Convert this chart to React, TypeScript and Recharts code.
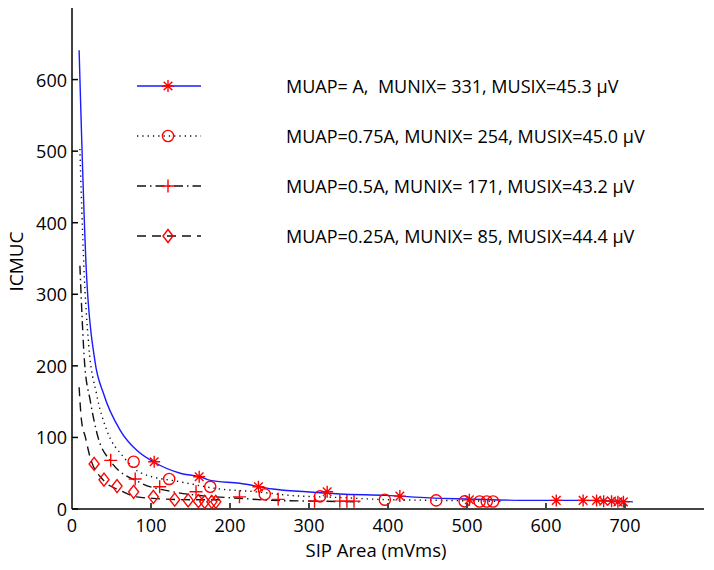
import { ComposedChart, Line, Scatter, XAxis, YAxis, Legend } from "recharts";

const font = '"Open Sans", "Noto Sans", sans-serif';
const red = "#ff0000";
const blue = "#1a1aff";
const ink = "#111";

// axis ticks
const xTicks = [0, 100, 200, 300, 400, 500, 600, 700];
const yTicks = [0, 100, 200, 300, 400, 500, 600];

// fitted curves (SIP area -> ICMUC)
const fitAx = [9, 18, 29, 40, 61, 82, 103, 137, 162, 175, 212, 254, 297, 339, 398, 453, 500, 579, 650, 710];
const fitAy = [641, 336, 207, 161, 110, 82, 66, 50, 45, 40, 36, 28, 24, 21, 19, 15.5, 14, 12, 12, 10];
const fitBx = [10, 15, 21, 31, 44, 65, 88, 137, 187, 234, 276, 339, 400, 470, 545];
const fitBy = [503, 340, 231, 161, 110, 73, 50, 38, 28, 24, 19, 16, 13, 12, 10.5];
const fitCx = [10, 16, 23, 33, 48, 86, 128, 170, 212, 254, 310, 366];
const fitCy = [340, 203, 152, 100, 68, 37, 24, 18, 15, 12, 11, 10];
const fitDx = [9, 12, 17, 23, 40, 61, 82, 107, 150, 195];
const fitDy = [170, 124, 100, 72, 40, 26, 17, 14.5, 13, 13];

// measured points (red markers)
const ptsAx = [104, 161, 236, 323, 415, 503, 613, 647, 664, 673, 683, 691, 698];
const ptsAy = [66, 45, 31, 24, 18, 13, 12, 12, 12, 11, 11, 10, 10];
const ptsBx = [78, 123, 175, 244, 314, 396, 461, 497, 516, 525, 533];
const ptsBy = [66, 42, 31, 20.5, 17.7, 13, 12, 10.7, 10.5, 10.5, 10.5];
const ptsCx = [49, 80, 111, 157, 212, 261, 307, 339, 348, 357];
const ptsCy = [68, 42, 31, 24, 17, 13.5, 11, 11, 11, 11];
const ptsDx = [28, 40.5, 57, 78, 103, 130, 147, 160, 168, 177, 182];
const ptsDy = [63, 41, 32, 24, 17, 13, 12, 11, 10, 10, 10];

const legendLabels = [
  "MUAP= A,  MUNIX= 331, MUSIX=45.3 µV",
  "MUAP=0.75A, MUNIX= 254, MUSIX=45.0 µV",
  "MUAP=0.5A, MUNIX= 171, MUSIX=43.2 µV",
  "MUAP=0.25A, MUNIX= 85, MUSIX=44.4 µV",
];

const zip = (xs: number[], ys: number[]) => xs.map((x, i) => ({ x, y: ys[i] }));

type Mark = (cx: number, cy: number) => React.ReactElement;

const asterisk: Mark = (cx, cy) => {
  const r = 6, d = 4.3;
  return (
    <path
      d={`M${cx - r},${cy}H${cx + r}M${cx},${cy - r}V${cy + r}M${cx - d},${cy - d}L${cx + d},${cy + d}M${cx - d},${cy + d}L${cx + d},${cy - d}`}
      stroke={red} strokeWidth={1.4} fill="none"
    />
  );
};
const circle: Mark = (cx, cy) => <circle cx={cx} cy={cy} r={5.6} stroke={red} strokeWidth={1.4} fill="none" />;
const plus: Mark = (cx, cy) => (
  <path d={`M${cx - 6.5},${cy}H${cx + 6.5}M${cx},${cy - 6.5}V${cy + 6.5}`} stroke={red} strokeWidth={1.4} fill="none" />
);
const diamond: Mark = (cx, cy) => (
  <path d={`M${cx},${cy - 6.5}L${cx + 5},${cy}L${cx},${cy + 6.5}L${cx - 5},${cy}Z`} stroke={red} strokeWidth={1.4} fill="none" />
);

const series = [
  { fit: zip(fitAx, fitAy), pts: zip(ptsAx, ptsAy), stroke: blue, dash: undefined, mark: asterisk },
  { fit: zip(fitBx, fitBy), pts: zip(ptsBx, ptsBy), stroke: ink, dash: "1.3 4", mark: circle },
  { fit: zip(fitCx, fitCy), pts: zip(ptsCx, ptsCy), stroke: ink, dash: "9 4 1.5 4", mark: plus },
  { fit: zip(fitDx, fitDy), pts: zip(ptsDx, ptsDy), stroke: ink, dash: "9 6", mark: diamond },
];

function XTick(props: any) {
  const { x, y, payload } = props;
  return (
    <g>
      <line x1={x} y1={y} x2={x} y2={y - 6} stroke="#444" strokeWidth={2} />
      <text x={x} y={y + 23} textAnchor="middle" fontFamily={font} fontSize={18} fill="#000">
        {payload.value}
      </text>
    </g>
  );
}

function YTick(props: any) {
  const { x, y, payload } = props;
  return (
    <g>
      <line x1={x} y1={y} x2={x + 6} y2={y} stroke="#000" strokeWidth={1.5} />
      <text x={x - 5} y={y + 7} textAnchor="end" fontFamily={font} fontSize={18} fill="#000">
        {payload.value}
      </text>
    </g>
  );
}

function LegendBox() {
  return (
    <div style={{ fontFamily: font, fontSize: 18, color: "#000" }}>
      {series.map((s, i) => (
        <div key={i} style={{ display: "flex", alignItems: "center", height: 50 }}>
          <svg width={80} height={20} style={{ marginLeft: 7, flexShrink: 0 }}>
            <line x1={0} y1={10} x2={64} y2={10} stroke={s.stroke} strokeWidth={1.4} strokeDasharray={s.dash} />
            {s.mark(31, 10)}
          </svg>
          <span style={{ marginLeft: 69, whiteSpace: "pre" }}>{legendLabels[i]}</span>
        </div>
      ))}
    </div>
  );
}

export default function App() {
  return (
    <div style={{ position: "absolute", left: 0, top: 0, width: 714, height: 570, background: "#fff", fontFamily: font }}>
      <ComposedChart width={714} height={570} margin={{ top: 8, right: 10, bottom: 21, left: 0 }}>
        <XAxis
          type="number" dataKey="x" domain={[0, 800]} ticks={xTicks} allowDataOverflow
          height={40} tickSize={0} tickMargin={0} tick={<XTick />} stroke="#444" strokeWidth={2}
          label={(p: any) => (
            <text x={p.viewBox.x + p.viewBox.width / 2 - 12} y={p.viewBox.y + 48} textAnchor="middle" fontFamily={font} fontSize={18.5} fill="#000">
              SIP Area (mVms)
            </text>
          )}
        />
        <YAxis
          type="number" domain={[0, 700]} ticks={yTicks} allowDataOverflow
          width={72} tickSize={0} tickMargin={0} tick={<YTick />} stroke="#000" strokeWidth={1.5}
          label={(p: any) => {
            const cy = p.viewBox.y + p.viewBox.height / 2 + 3;
            return (
              <text x={23} y={cy} transform={`rotate(-90 23 ${cy})`} textAnchor="middle" fontFamily={font} fontSize={19} fill="#000">
                ICMUC
              </text>
            );
          }}
        />
        {series.map((s, i) => (
          <Line
            key={`fit${i}`} data={s.fit} dataKey="y" type="monotone" stroke={s.stroke} strokeWidth={1.4}
            strokeDasharray={s.dash} dot={false} activeDot={false} isAnimationActive={false}
          />
        ))}
        {series.map((s, i) => (
          <Scatter
            key={`pts${i}`} data={s.pts} dataKey="y" isAnimationActive={false}
            shape={(p: any) => s.mark(p.cx, p.cy)}
          />
        ))}
        <Legend
          layout="vertical" align="center" verticalAlign="middle"
          wrapperStyle={{ left: 130, top: 61, width: 570 }} content={() => <LegendBox />}
        />
      </ComposedChart>
    </div>
  );
}
